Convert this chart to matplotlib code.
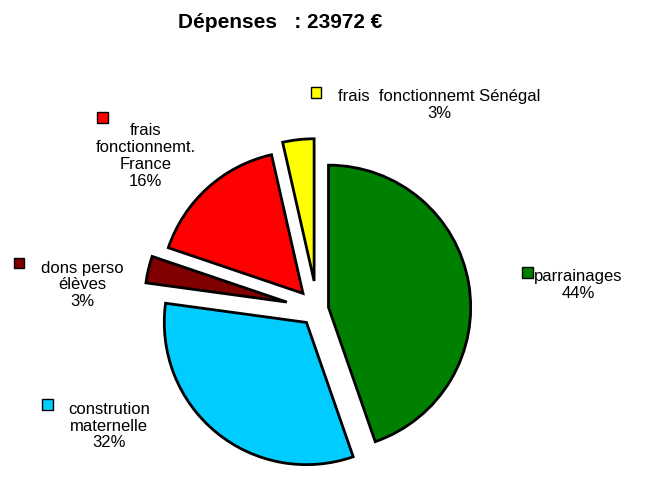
import matplotlib
matplotlib.use("Agg")
import matplotlib.pyplot as plt

categories = ["parrainages", "constrution\nmaternelle", "dons perso\nélèves",
              "frais\nfonctionnemt.\nFrance", "frais  fonctionnemt Sénégal"]
values = [44, 32, 3, 16, 3.5]
pct_labels = ["44%", "32%", "3%", "16%", "3%"]
colors = ["#008000", "#00ccff", "#800000", "#ff0000", "#ffff00"]
explode = [0.08, 0.12, 0.22, 0.15, 0.2]

fig = plt.figure(figsize=(6.61, 4.87), dpi=100)
ax = fig.add_axes([0.2, 0.0, 0.56, 0.73])
ax.pie(values, colors=colors, explode=explode, startangle=90, counterclock=False,
       wedgeprops=dict(edgecolor="black", linewidth=2))
ax.set_aspect("equal")

fig.text(0.424, 0.953, "Dépenses   : 23972 €", ha="center", va="center",
         fontsize=15, fontweight="bold", family="Liberation Sans")

# label positions (figure fraction): text anchor, square marker
label_pos = [
    (0.875, 0.415, 0.79, 0.44),
    (0.165, 0.125, 0.064, 0.17),
    (0.125, 0.415, 0.021, 0.46),
    (0.22, 0.68, 0.147, 0.758),
    (0.665, 0.785, 0.47, 0.81),
]
for cat, pct, col, (tx, ty, sx, sy) in zip(categories, pct_labels, colors, label_pos):
    fig.text(tx, ty, cat + "\n" + pct, ha="center", va="center", fontsize=12,
             family="Liberation Sans", linespacing=1.15)
    fig.patches.append(plt.Rectangle((sx, sy - 0.011), 0.016, 0.022,
                                     transform=fig.transFigure, facecolor=col,
                                     edgecolor="black", linewidth=1))

fig.savefig("out.png", dpi=100)
